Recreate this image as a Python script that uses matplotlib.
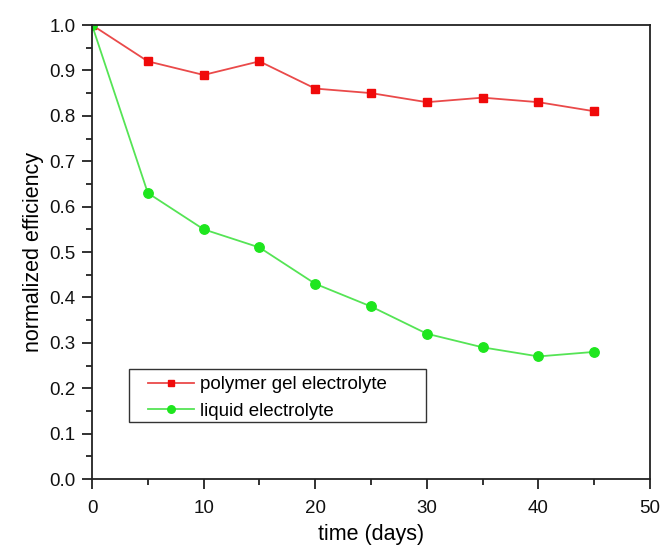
import matplotlib
matplotlib.use("Agg")
import matplotlib.pyplot as plt
from matplotlib.ticker import MultipleLocator
from matplotlib.patches import Rectangle

plt.rcParams['font.family'] = ['Liberation Sans', 'DejaVu Sans']

days = [0, 5, 10, 15, 20, 25, 30, 35, 40, 45]
polymer_gel = [1.0, 0.92, 0.89, 0.92, 0.86, 0.85, 0.83, 0.84, 0.83, 0.81]
liquid = [1.0, 0.63, 0.55, 0.51, 0.43, 0.38, 0.32, 0.29, 0.27, 0.28]
labels = ["polymer gel electrolyte", "liquid electrolyte"]

fig = plt.figure(figsize=(6.6, 5.46), dpi=100)
ax = fig.add_axes([0.1394, 0.1227, 0.8456, 0.8315])

ax.plot(days, polymer_gel, color='#ea4a4a', lw=1.3, marker='s', ms=6,
        mfc='#f00a0a', mec='#f00a0a', label=labels[0])
ax.plot(days, liquid, color='#55e455', lw=1.3, marker='o', ms=6.8,
        mfc='#1ee61e', mec='#1ee61e', label=labels[1])

ax.set_xlim(0, 50)
ax.set_ylim(0, 1.0)
ax.xaxis.set_major_locator(MultipleLocator(10))
ax.xaxis.set_minor_locator(MultipleLocator(5))
ax.yaxis.set_major_locator(MultipleLocator(0.1))
ax.yaxis.set_minor_locator(MultipleLocator(0.05))
ax.tick_params(which='both', direction='out', width=1.3, labelsize=13.5, color='#222222',
               labelcolor='#111111')
ax.tick_params(which='major', length=7)
ax.tick_params(which='minor', length=4)
ax.tick_params(axis='x', pad=8)
ax.tick_params(axis='y', pad=5)
for s in ax.spines.values():
    s.set_linewidth(1.3)
    s.set_color('#222222')

ax.set_xlabel("time (days)", fontsize=15.5, labelpad=5)
ax.set_ylabel("normalized efficiency", fontsize=15.5, labelpad=4)

leg = ax.legend(loc='center left', bbox_to_anchor=(0.1004, 0.1785),
                borderaxespad=0, borderpad=0, fontsize=13.5, frameon=False,
                handlelength=2.45, handletextpad=0.32,
                labelspacing=0.5, markerscale=0.8)
ax.add_patch(Rectangle((0.0663, 0.1256), 0.5323, 0.1167, transform=ax.transAxes,
                       fill=False, edgecolor='#333333', lw=1.0, zorder=4))

fig.savefig("out.png", dpi=100)
